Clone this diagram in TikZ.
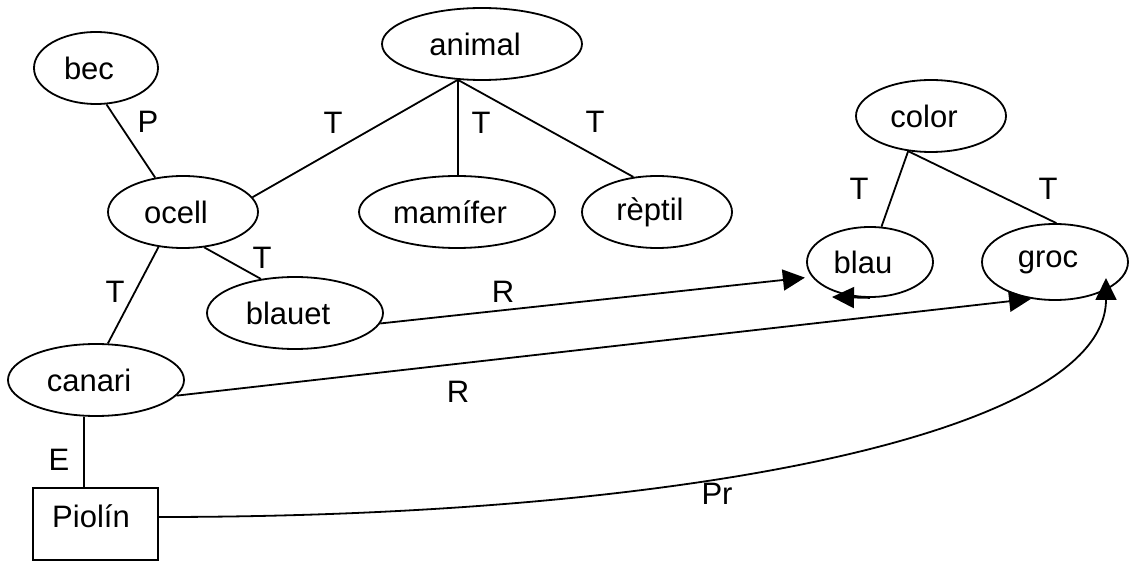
\documentclass[tikz,border=0pt]{standalone}
\usepackage{fontspec}
\setmainfont{Liberation Sans}
\usetikzlibrary{shapes.geometric,arrows.meta,calc}
\begin{document}
\begin{tikzpicture}[x=1pt,y=-1pt,
  every node/.style={font=\fontsize{31}{36}\selectfont},
  concept/.style={ellipse,draw,line width=1.8pt,inner sep=0pt,
    execute at begin node={\hspace*{-14pt}}},
  link/.style={line width=1.8pt},
  arr/.style={link,-{Triangle[length=22pt,width=21pt]}},
  lbl/.style={inner sep=0pt}]
\useasboundingbox (0,0) rectangle (1130,561);

% concepts
\node[concept,minimum width=124,minimum height=72] (bec) at (96,68) {bec};
\node[concept,minimum width=200,minimum height=72] (animal) at (482,44) {animal};
\node[concept,minimum width=150,minimum height=72] (ocell) at (183,212) {ocell};
\node[concept,minimum width=196,minimum height=72] (mamifer) at (457,212) {mamífer};
\node[concept,minimum width=150,minimum height=72] (reptil) at (657,212) {rèptil};
\node[concept,minimum width=150,minimum height=72] (color) at (931,116) {color};
\node[concept,minimum width=126,minimum height=70] (blau) at (870,262) {blau};
\node[concept,minimum width=146,minimum height=76] (groc) at (1055,262) {groc};
\node[concept,minimum width=176,minimum height=72] (blauet) at (295,313) {blauet};
\node[concept,minimum width=176,minimum height=72] (canari) at (96,380) {canari};

% the individual
\node[draw,line width=1.8pt,minimum width=125,minimum height=72,inner sep=0pt] (piolin) at (95.5,524) {};
\node[lbl] (piolintext) at (91,516) {Piolín};

% taxonomy links
\coordinate (aroot) at (animal.-124);
\draw[link] (aroot) -- (ocell.12);
\draw[link] (aroot) -- (aroot |- mamifer.north);
\draw[link] (aroot) -- (reptil.124);
\draw[link] (bec.-74) -- (ocell.129);
\draw[link] (ocell.-59) -- (blauet.135);
\draw[link] (ocell.-125) -- (canari.72);
\coordinate (cE) at ([xshift=-12pt]canari.south);
\draw[link] (cE) -- (cE |- piolin.north);
\coordinate (croot) at (color.-123);
\draw[link] (croot) -- (blau.72);
\draw[link] (croot) -- (groc.88);

% relations
\draw[arr] (blauet.-7) -- ($(blau.193)+(-6,2)$);
\draw[arr] (canari.-11) -- (groc.-123);
\draw[arr] ([yshift=7pt]piolin.east) .. controls +(542,0) and +(0,152) .. ($(groc.center)+(51,16)$);
\coordinate (bturn) at (832,297);
\draw[arr] (blau.south) -- (bturn);

% link labels
\node[lbl] at (148,122) {P};
\node[lbl] at (333,123) {T};
\node[lbl] at (481,123) {T};
\node[lbl] at (595,122) {T};
\node[lbl] at (262,258) {T};
\node[lbl] at (115,292) {T};
\node[lbl] at (59,460) {E};
\node[lbl] at (859,189) {T};
\node[lbl] at (1048,189) {T};
\node[lbl] at (503,292) {R};
\node[lbl] at (458,392) {R};
\node[lbl] at (717,494) {Pr};
\end{tikzpicture}
\end{document}
